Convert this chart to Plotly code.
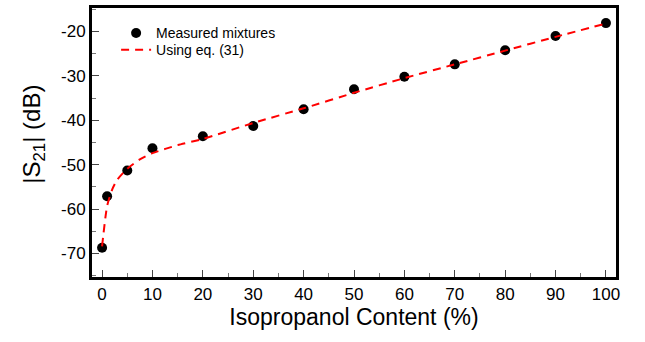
import plotly.graph_objects as go

# Measured transmission |S21| versus isopropanol content
content_pct = [0, 1, 5, 10, 20, 30, 40, 50, 60, 70, 80, 90, 100]
s21_measured_db = [-68.7, -57.1, -51.3, -46.3, -43.6, -41.3, -37.5, -33.0, -30.2, -27.4, -24.2, -21.0, -18.1]

# Model curve from eq. (31)
model_pct = [0, 1, 2, 3, 5, 7.5, 10, 15, 20, 30, 40, 50, 60, 70, 80, 90, 100]
s21_model_db = [-68.4, -59.3, -55.6, -53.4, -50.9, -48.8, -47.4, -45.6, -44.2, -40.6, -37.3, -33.8, -30.5, -27.4, -24.3, -21.2, -18.2]

x_ticks = [0, 10, 20, 30, 40, 50, 60, 70, 80, 90, 100]
y_ticks = [-70, -60, -50, -40, -30, -20]
y_tick_labels = ["-70", "-60", "-50", "-40", "-30", "-20"]

FONT = "Liberation Sans, Arial, sans-serif"

fig = go.Figure()
fig.add_trace(go.Scatter(
    x=content_pct, y=s21_measured_db, mode="markers", name="Measured mixtures",
    marker=dict(symbol="circle", size=10, color="black"),
    legend="legend",
))
fig.add_trace(go.Scatter(
    x=model_pct, y=s21_model_db, mode="lines", name="Using eq. (31)",
    line=dict(color="#ff0000", width=2, dash="8px,6px", shape="spline", smoothing=0.6),
    legend="legend2",
))

axis_common = dict(
    showline=True, linecolor="black", linewidth=3, mirror=True,
    showgrid=False, zeroline=False,
    ticks="inside", ticklen=7, tickwidth=1, tickcolor="#444",
    tickfont=dict(family=FONT, size=17, color="black"),
)

fig.update_xaxes(
    range=[-2, 102], tickvals=x_ticks,
    minor=dict(dtick=5, ticks="inside", ticklen=4, tickcolor="#777", tickwidth=1),
    title=dict(text="Isopropanol Content (%)", font=dict(family=FONT, size=23, color="black"), standoff=4),
    **axis_common,
)
fig.update_yaxes(
    range=[-75.3, -14.7], tickvals=y_ticks, ticktext=y_tick_labels,
    minor=dict(dtick=5, ticks="inside", ticklen=4, tickcolor="#777", tickwidth=1),
    **axis_common,
)

# Vertical axis title, placed as rotated text left of the tick labels
fig.add_annotation(
    text="|S<sub>21</sub>| (dB)", textangle=-90,
    xref="paper", yref="paper", x=-0.112, y=0.53,
    xanchor="center", yanchor="middle", showarrow=False,
    font=dict(family=FONT, size=24, color="black"),
)

legend_style = dict(
    xanchor="left", yanchor="top",
    bgcolor="rgba(0,0,0,0)", borderwidth=0,
    font=dict(family=FONT, size=14, color="black"),
    tracegroupgap=0, itemwidth=30,
)

fig.update_layout(
    width=645, height=342,
    margin=dict(l=92, r=29, t=5, b=65),
    paper_bgcolor="white", plot_bgcolor="white",
    showlegend=True,
    legend=dict(x=0.046, y=0.965, **legend_style),
    legend2=dict(x=0.046, y=0.9025, **legend_style),
)

fig.write_html("out.html")
